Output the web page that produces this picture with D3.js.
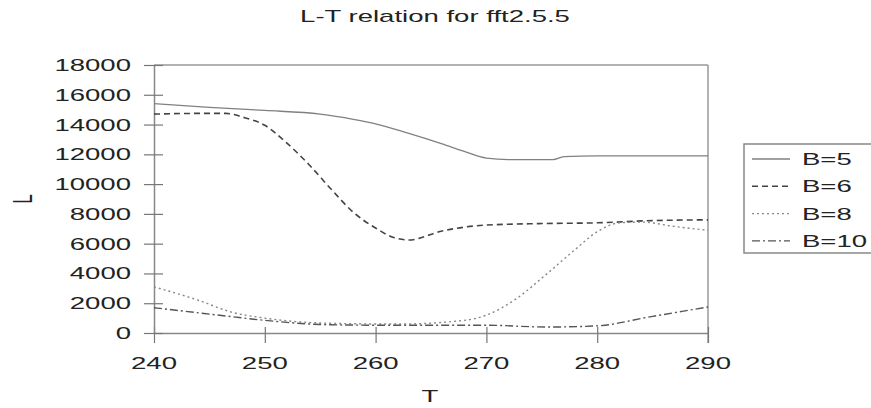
<!DOCTYPE html>
<html>
<head>
<meta charset="utf-8">
<script src="https://cdn.jsdelivr.net/npm/d3@7"></script>
<style>
  body { margin: 0; background: #fff; }
  text { font-family: "Liberation Sans", Arial, sans-serif; fill: #222; }
</style>
</head>
<body>
<svg id="chart" width="871" height="408"></svg>
<script>
// values
let t_b5  = [240, 245, 250, 255, 258, 260, 263, 266, 268, 270, 272, 276, 277, 280, 285, 290];
let l_b5  = [15400, 15150, 14950, 14700, 14350, 14050, 13400, 12700, 12200, 11750, 11650, 11650, 11850, 11900, 11900, 11900];

let t_b6  = [240, 244, 246.5, 248, 250, 252, 254, 256, 258, 260, 261.5, 263, 266, 270, 275, 280, 285, 290];
let l_b6  = [14700, 14750, 14750, 14500, 13950, 12750, 11300, 9650, 8100, 7050, 6450, 6250, 6850, 7250, 7350, 7400, 7550, 7600];

let t_b8  = [240, 244, 247, 250, 256, 262, 268, 270, 272.5, 275.5, 278, 280, 282, 284, 287, 290];
let l_b8  = [3100, 2200, 1400, 1000, 650, 600, 850, 1200, 2200, 4000, 5600, 6800, 7400, 7450, 7150, 6900];

let t_b10 = [240, 247, 250, 256, 262, 270, 275.5, 280, 284.5, 290];
let l_b10 = [1700, 1100, 850, 550, 520, 520, 400, 480, 1050, 1750];

let seriesNames = ["B=5", "B=6", "B=8", "B=10"];
let xTicks = [240, 250, 260, 270, 280, 290];
let yTicks = [0, 2000, 4000, 6000, 8000, 10000, 12000, 14000, 16000, 18000];

let SX = 1.62; // the font in the picture is stretched sideways

let svg = d3.select("#chart");
let plotL = 154, plotR = 708, plotT = 65, plotB = 333;

let x = d3.scaleLinear().domain([240, 290]).range([plotL, plotR]);
let y = d3.scaleLinear().domain([0, 18000]).range([plotB, plotT]);

function wideText(g, tx, ty, str, size, anchor, rot) {
  let tr = "translate(" + tx + "," + ty + ") scale(" + SX + ",1)";
  if (rot) tr += " rotate(" + rot + ")";
  return g.append("text")
    .attr("transform", tr)
    .attr("text-anchor", anchor)
    .style("font-size", size + "px")
    .text(str);
}

// title
wideText(svg, 435, 22, "L-T relation for fft2.5.5", 17, "middle");

// frame (top + right)
svg.append("line").attr("x1", plotL).attr("x2", plotR).attr("y1", plotT).attr("y2", plotT)
  .attr("stroke", "#999").attr("stroke-width", 1.5);
svg.append("line").attr("x1", plotR).attr("x2", plotR).attr("y1", plotT).attr("y2", plotB + 10)
  .attr("stroke", "#999").attr("stroke-width", 1.5);

// axes
let xAxis = svg.append("g").attr("transform", "translate(0," + plotB + ")")
  .call(d3.axisBottom(x).tickValues(xTicks).tickSizeInner(10).tickSizeOuter(0).tickFormat(""));
let yAxis = svg.append("g").attr("transform", "translate(" + plotL + ",0)")
  .call(d3.axisLeft(y).tickValues(yTicks).tickSizeInner(10).tickSizeOuter(0).tickFormat(""));

for (let ax of [xAxis, yAxis]) {
  ax.select(".domain").attr("stroke", "#888").attr("stroke-width", 1.5);
  ax.selectAll(".tick line").attr("stroke", "#777").attr("stroke-width", 1.2);
}
// ticks cross the axis lines
xAxis.selectAll(".tick line").attr("y1", -6);
yAxis.selectAll(".tick line").attr("x1", 9).attr("x2", -10);

for (let v of yTicks) {
  wideText(svg, 131, y(v) + 6, d3.format("d")(v), 17, "end");
}
for (let v of xTicks) {
  wideText(svg, x(v), 369, v, 17, "middle");
}

wideText(svg, 430, 402, "T", 17, "middle");
wideText(svg, 32, 199, "L", 17, "middle", -90);

// series
let series = [
  { name: seriesNames[0], t: t_b5,  l: l_b5,  color: "#808080", dash: null,      w: 1.3 },
  { name: seriesNames[1], t: t_b6,  l: l_b6,  color: "#444",    dash: "6,4",     w: 1.6 },
  { name: seriesNames[2], t: t_b8,  l: l_b8,  color: "#888",    dash: "2,3",     w: 1.4 },
  { name: seriesNames[3], t: t_b10, l: l_b10, color: "#555",    dash: "8,3,2,3", w: 1.4 }
];

let line = d3.line()
  .x(d => x(d[0]))
  .y(d => y(d[1]))
  .curve(d3.curveMonotoneX);

svg.selectAll(".series")
  .data(series)
  .join("path")
  .attr("class", "series")
  .attr("d", d => line(d.t.map((tv, i) => [tv, d.l[i]])))
  .attr("fill", "none")
  .attr("stroke", d => d.color)
  .attr("stroke-width", d => d.w)
  .attr("stroke-dasharray", d => d.dash);

// legend
let legend = svg.append("g");
legend.append("rect")
  .attr("x", 744).attr("y", 144).attr("width", 140).attr("height", 109)
  .attr("fill", "#fff").attr("stroke", "#888").attr("stroke-width", 1.5);

series.forEach((s, i) => {
  let ly = 159 + i * 27.3;
  legend.append("line")
    .attr("x1", 752).attr("x2", 790).attr("y1", ly).attr("y2", ly)
    .attr("stroke", s.color).attr("stroke-width", s.w)
    .attr("stroke-dasharray", s.dash);
  wideText(legend, 802, ly + 6, s.name, 17, "start");
});
</script>
</body>
</html>
